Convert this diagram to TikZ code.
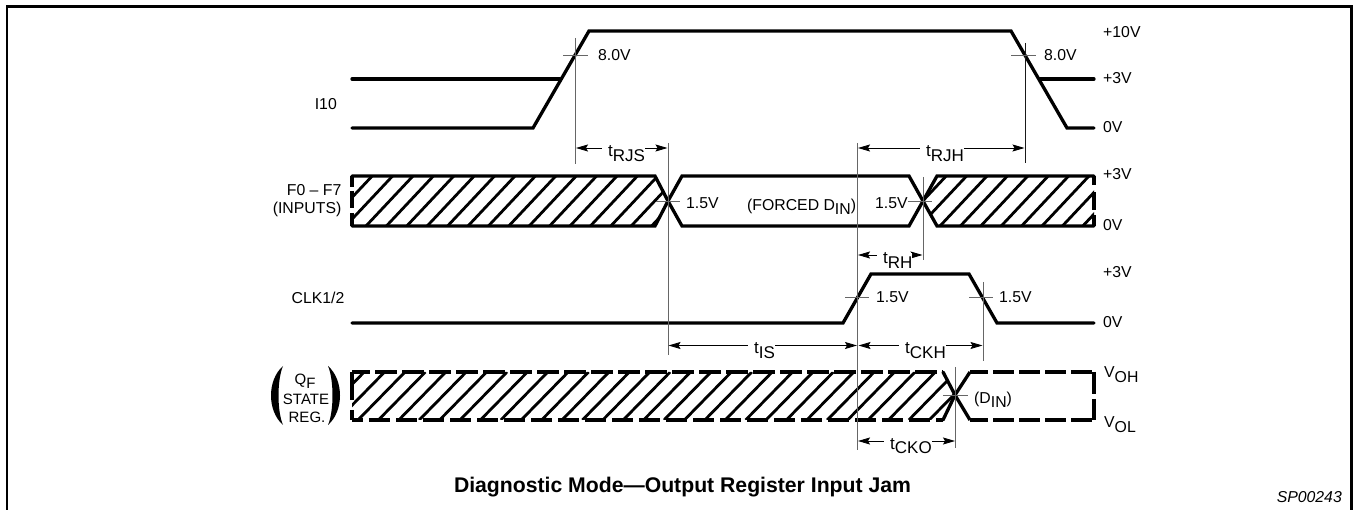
\documentclass[tikz,border=0pt]{standalone}
\usepackage{fontspec}
\setmainfont{Liberation Sans}
\usetikzlibrary{arrows.meta}
\tikzset{
  x=1pt,y=-1pt,
  sig/.style={line width=3.3pt,line cap=round,line join=miter,black},
  dsig/.style={line width=3.3pt,line cap=butt,black},
  hatchline/.style={line width=2.8pt,black},
  guide/.style={line width=0.9pt,black!60},
  tick/.style={line width=0.9pt,black!60},
  dim/.style={line width=0.9pt,black,{Stealth[length=12pt,width=7pt,inset=2pt]}-{Stealth[length=12pt,width=7pt,inset=2pt]}},
  lab/.style={inner sep=0pt,font=\fontsize{15.8}{17}\selectfont},
  tm/.style={inner xsep=0pt,inner ysep=0pt,anchor=base west,fill=white,font=\fontsize{17}{19}\selectfont},
  lowlab/.style={inner sep=0pt,anchor=base west,font=\fontsize{15.8}{17}\selectfont},
}
\newcommand{\lowr}[2][4.5pt]{\raisebox{-#1}{#2}}
\begin{document}
\begin{tikzpicture}
\useasboundingbox (0,0) rectangle (1353,510);
% frame
\coordinate (fa) at (7,511); \coordinate (fb) at (7,6.5); \coordinate (fc) at (1351.5,6.5); \coordinate (fd) at (1351.5,511);
\draw[line width=2.5pt] (fa) -- (fb) -- (fc) -- (fd);
% I10
\coordinate (ia) at (352,128); \coordinate (ib) at (533,128); \coordinate (ic) at (589,31); \coordinate (id) at (1011,31);
\coordinate (ie) at (1067,128); \coordinate (if) at (1094,128);
\coordinate (ig) at (352,79); \coordinate (ih) at (560,79); \coordinate (ii) at (1040,79); \coordinate (ij) at (1094,79);
\draw[sig] (ia) -- (ib) -- (ic) -- (id) -- (ie) -- (if);
\draw[sig] (ig) -- (ih);
\draw[sig] (ii) -- (ij);
% bands: hatch
\begin{scope}
\clip (352,176) -- (655,176) -- (668,201) -- (655,226) -- (352,226) -- cycle;
\foreach \k in {-4,...,30}{\draw[hatchline] ({366+20.4*\k},226) -- ({413+20.4*\k},176);}
\end{scope}
\begin{scope}
\clip (923,201) -- (937,176) -- (1094,176) -- (1094,226) -- (937,226) -- cycle;
\foreach \k in {-3,...,8}{\draw[hatchline] ({940+20.4*\k},226) -- ({987+20.4*\k},176);}
\end{scope}
\begin{scope}
\clip (352,372) -- (943,372) -- (955,395) -- (943,420) -- (352,420) -- cycle;
\foreach \k in {-2,...,31}{\draw[hatchline] ({358+20.4*\k},420) -- ({405+20.4*\k},372);}
\end{scope}
% F0-F7
\coordinate (fl1) at (352,176); \coordinate (fl2) at (352,226);
\coordinate (ft1) at (655,176); \coordinate (fx1) at (668,201); \coordinate (fb1) at (655,226);
\coordinate (ft2) at (682,176); \coordinate (fb2) at (682,226);
\coordinate (ft3) at (909,176); \coordinate (fx2) at (923,201); \coordinate (fb3) at (909,226);
\coordinate (ft4) at (937,176); \coordinate (fb4) at (937,226);
\coordinate (fr1) at (1094,176); \coordinate (fr2) at (1094,226);
\draw[sig] (fl1) -- (ft1) -- (fx1) -- (fb1) -- (fl2);
\draw[sig] (ft2) -- (fx1) -- (fb2) -- (fb3) -- (fx2) -- (ft3) -- cycle;
\draw[sig] (fr1) -- (ft4) -- (fx2) -- (fb4) -- (fr2);
\draw[dsig,dash pattern=on 11pt off 4pt on 17pt off 5pt on 14pt] (fl1) -- (fl2);
\draw[dsig,dash pattern=on 9pt off 7pt on 18pt off 5pt on 12pt] (fr1) -- (fr2);
% CLK
\coordinate (ca) at (352,323); \coordinate (cb) at (843,323); \coordinate (cc) at (871,274); \coordinate (cd) at (969,274);
\coordinate (ce) at (997,323); \coordinate (cf) at (1094,323);
\draw[sig] (ca) -- (cb) -- (cc) -- (cd) -- (ce) -- (cf);
% QF
\coordinate (ql1) at (352,372); \coordinate (ql2) at (352,420);
\coordinate (qt1) at (943,372); \coordinate (qx) at (955,395); \coordinate (qb1) at (943,420);
\coordinate (qt2) at (970,372); \coordinate (qb2) at (970,420);
\coordinate (qr1) at (1094,372); \coordinate (qr2) at (1094,420);
\draw[dsig,dash pattern=on 22pt off 5pt,dash phase=4pt] (ql1) -- (qt1);
\draw[dsig,dash pattern=on 21pt off 6pt,dash phase=10pt] (ql2) -- (qb1);
\draw[sig] (qt1) -- (qx) -- (qb1);
\draw[sig,line cap=butt] (qt2) -- (qx) -- (qb2);
\draw[dsig,dash pattern=on 21pt off 5pt,dash phase=3pt] (qt2) -- (qr1);
\draw[dsig,dash pattern=on 21pt off 5pt,dash phase=3pt] (qb2) -- (qr2);
\draw[dsig,dash pattern=on 22pt off 5pt on 23pt] (qr1) -- (qr2);
\draw[dsig,dash pattern=on 28pt off 10pt on 12pt] (ql1) -- (ql2);
% guides
\coordinate (g1a) at (575,38); \coordinate (g1b) at (575,164);
\coordinate (g2a) at (1025,43); \coordinate (g2b) at (1025,163);
\coordinate (g3a) at (668,143); \coordinate (g3b) at (668,355);
\coordinate (g4a) at (857.5,143); \coordinate (g4b) at (857.5,450);
\coordinate (g5a) at (923,177); \coordinate (g5b) at (923,260);
\coordinate (g6a) at (983,282); \coordinate (g6b) at (983,361);
\coordinate (g7a) at (955.5,367); \coordinate (g7b) at (955.5,448);
\draw[guide] (g1a) -- (g1b);
\draw[guide,black!90] (g2a) -- (g2b);
\draw[guide] (g3a) -- (g3b);
\draw[guide] (g4a) -- (g4b);
\draw[guide] (g5a) -- (g5b);
\draw[guide] (g6a) -- (g6b);
\draw[guide] (g7a) -- (g7b);
% ticks
\coordinate (t1a) at (563,55); \coordinate (t1b) at (588,55);
\coordinate (t2a) at (1011,55); \coordinate (t2b) at (1036,55);
\coordinate (t3a) at (656,201); \coordinate (t3b) at (680,201);
\coordinate (t4a) at (908,201); \coordinate (t4b) at (932,201);
\coordinate (t5a) at (845,297.5); \coordinate (t5b) at (869,297.5);
\coordinate (t6a) at (969,297.5); \coordinate (t6b) at (993,297.5);
\coordinate (t7a) at (943,395); \coordinate (t7b) at (968,395);
\foreach \p in {1,...,7}{\draw[tick] (t\p a) -- (t\p b);}
% dimension arrows and labels
\coordinate (d1a) at (576,148); \coordinate (d1b) at (667.5,148);
\coordinate (d2a) at (858,148); \coordinate (d2b) at (1024.5,148);
\coordinate (d3a) at (858,255); \coordinate (d3b) at (922.5,255);
\coordinate (d4a) at (668.5,345.5); \coordinate (d4b) at (857,345.5);
\coordinate (d5a) at (858.5,345.5); \coordinate (d5b) at (982.5,345.5);
\coordinate (d6a) at (858,441); \coordinate (d6b) at (955,441);
\draw[dim] (d1a) -- (d1b);
\draw[dim] (d2a) -- (d2b);
\draw[dim] (d3a) -- (d3b);
\draw[dim] (d4a) -- (d4b);
\draw[dim] (d5a) -- (d5b);
\draw[dim] (d6a) -- (d6b);
\node[tm] (trjs) at (602,157) {\hspace*{6pt}t\lowr{RJS}};
\node[tm] (trjh) at (920,157) {\hspace*{6pt}t\lowr{RJH}};
\node[tm] (trh) at (877,264) {\hspace*{6pt}t\lowr{RH}};
\node[tm] (tis) at (748,354) {\hspace*{6pt}t\lowr{IS}};
\node[tm] (tckh) at (899,354) {\hspace*{6pt}t\lowr{CKH}};
\node[tm] (tcko) at (884,449.5) {\hspace*{6pt}t\lowr{CKO}};
% voltage labels
\node[lab,anchor=west] (v1) at (598,55.5) {8.0V};
\node[lab,anchor=west] (v2) at (1044,55.5) {8.0V};
\node[lab,anchor=west] (v3) at (686,203) {1.5V};
\node[lab,anchor=west] (v4) at (875,203) {1.5V};
\node[lab,anchor=west] (v5) at (876,297) {1.5V};
\node[lab,anchor=west] (v6) at (999,297) {1.5V};
\node[lowlab] (forced) at (747,211) {(FORCED D\lowr[4pt]{IN})};
\node[lowlab] (din) at (974,404) {(D\lowr[4pt]{IN})};
% right labels
\node[lab,anchor=west] (r1) at (1103,32) {+10V};
\node[lab,anchor=west] (r2) at (1103,78) {+3V};
\node[lab,anchor=west] (r3) at (1103,127) {0V};
\node[lab,anchor=west] (r4) at (1103,174) {+3V};
\node[lab,anchor=west] (r5) at (1103,225) {0V};
\node[lab,anchor=west] (r6) at (1103,272) {+3V};
\node[lab,anchor=west] (r7) at (1103,322) {0V};
\node[lowlab] (r8) at (1104,378) {V\lowr[5pt]{OH}};
\node[lowlab] (r9) at (1104,428) {V\lowr[5pt]{OL}};
% left labels
\node[lab,anchor=east] (l1) at (337,104) {I10};
\node[lab,anchor=east] (l2) at (341.5,190.5) {F0 – F7};
\node[lab,anchor=east] (l3) at (341.5,209) {(INPUTS)};
\node[lab,anchor=east] (l4) at (344.5,298) {CLK1/2};
\node[lowlab,font=\fontsize{15}{17}\selectfont] (l5) at (294.5,385) {Q\lowr[4pt]{F}};
\node[lab,font=\fontsize{15}{17}\selectfont] (l6) at (306,399) {STATE};
\node[lab,font=\fontsize{15}{17}\selectfont] (l7) at (307,417.5) {REG.};
\coordinate (pl) at (283,366); \coordinate (pla) at (283,425); \coordinate (pr) at (328,366); \coordinate (pra) at (328,425);
\fill (pl) .. controls (267,380) and (267,411) .. (pla) .. controls (277,411) and (277,380) .. (pl) -- cycle;
\fill (pr) .. controls (344,380) and (344,411) .. (pra) .. controls (334,411) and (334,380) .. (pr) -- cycle;
% title
\node[inner sep=0pt,font=\fontsize{21.2}{24}\selectfont\bfseries] (title) at (682.5,487) {Diagnostic Mode—Output Register Input Jam};
\node[inner sep=0pt,anchor=east,font=\fontsize{15.8}{17}\selectfont\itshape] (sp) at (1342,497.5) {SP00243};
\end{tikzpicture}
\end{document}
